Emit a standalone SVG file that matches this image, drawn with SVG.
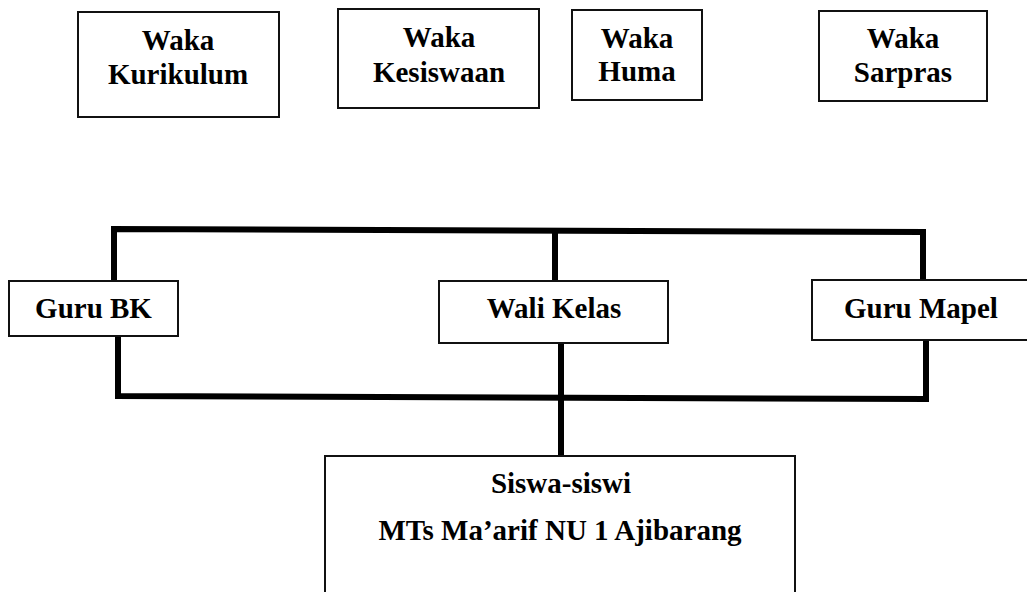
<svg xmlns="http://www.w3.org/2000/svg" width="1027" height="592" viewBox="0 0 1027 592">
<style>
.box{fill:#fff;stroke:#111;stroke-width:2}
.t{font-family:"Liberation Serif","Times New Roman",serif;font-weight:bold;font-size:29px;fill:#000;text-anchor:middle}
.c{fill:none;stroke:#000;stroke-width:6;stroke-linejoin:miter;stroke-linecap:butt}
</style>
<rect width="1027" height="592" fill="#fff"/>
<g id="connectors">
<polyline class="c" points="114,281 114,229 923,232 923,281"/>
<line class="c" x1="555" y1="230" x2="555" y2="281"/>
<polyline class="c" points="118,336 118,396 926,399 926,340"/>
<line class="c" x1="561" y1="343" x2="561" y2="456"/>
</g>
<g id="waka-kurikulum">
<rect class="box" x="78" y="12" width="201" height="105"/>
<text class="t" x="178" y="50">Waka</text>
<text class="t" x="178" y="84">Kurikulum</text>
</g>
<g id="waka-kesiswaan">
<rect class="box" x="338" y="9" width="201" height="99"/>
<text class="t" x="439" y="47">Waka</text>
<text class="t" x="439" y="82">Kesiswaan</text>
</g>
<g id="waka-huma">
<rect class="box" x="572" y="10" width="130" height="90"/>
<text class="t" x="637" y="48">Waka</text>
<text class="t" x="637" y="81">Huma</text>
</g>
<g id="waka-sarpras">
<rect class="box" x="819" y="11" width="168" height="90"/>
<text class="t" x="903" y="48">Waka</text>
<text class="t" x="903" y="82">Sarpras</text>
</g>
<g id="guru-bk">
<rect class="box" x="9" y="281" width="169" height="55"/>
<text class="t" x="93.5" y="318">Guru BK</text>
</g>
<g id="wali-kelas">
<rect class="box" x="439" y="281" width="229" height="62"/>
<text class="t" x="554" y="318">Wali Kelas</text>
</g>
<g id="guru-mapel">
<rect class="box" x="812" y="280" width="230" height="60"/>
<text class="t" x="921" y="318">Guru Mapel</text>
</g>
<g id="siswa">
<rect class="box" x="325" y="456" width="470" height="150"/>
<text class="t" x="561" y="493">Siswa-siswi</text>
<text class="t" x="560" y="540">MTs Ma’arif NU 1 Ajibarang</text>
</g>
</svg>
